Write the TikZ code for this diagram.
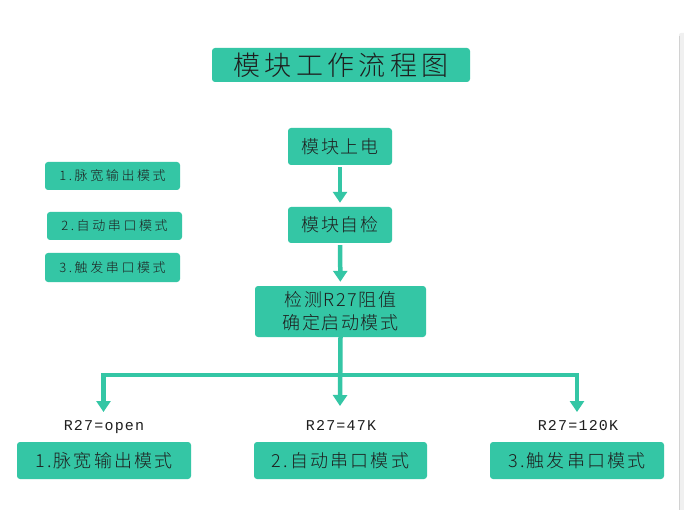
\documentclass[tikz,border=0pt]{standalone}
\usepackage{fontspec}
\setmainfont{Noto Sans CJK SC Light}
\newfontfamily\titlef[LetterSpace=16]{Noto Sans CJK SC Light}
\newfontfamily\midf[LetterSpace=9]{Noto Sans CJK SC Light}
\newfontfamily\smallf[LetterSpace=20]{Noto Sans CJK SC Light}
\newfontfamily\bigf[LetterSpace=12]{Noto Sans CJK SC Light}
\newfontfamily\monof[LetterSpace=8]{Liberation Mono}
\usetikzlibrary{arrows.meta}
\definecolor{teal1}{RGB}{52,198,165}
\definecolor{ink}{RGB}{30,30,30}
\begin{document}
\begin{tikzpicture}[x=1pt,y=-1pt,
  box/.style={fill=teal1, rounded corners=3pt, inner sep=0pt, text=ink, align=center},
  flow/.style={draw=teal1, line width=4.5pt, line join=miter},
  tip/.style={-{Triangle[width=14pt,length=11pt]}},
  lbl/.style={text=ink, inner sep=0pt, text height=10pt, text depth=3pt, font=\monof\fontsize{15}{18}\selectfont}
]
\useasboundingbox (0,0) rectangle (684,510);
\fill[white] (0,0) rectangle (684,510);
% right edge shadow
\fill[gray!12, rounded corners=2pt] (679,33) rectangle (686,512);
\draw[gray!35, line width=1pt] (679.5,36) -- (679.5,510);

\node[box, minimum width=258pt, minimum height=34pt, font=\titlef\fontsize{27}{30}\selectfont] (title) at (341,65) {模块工作流程图};

\node[box, minimum width=104pt, minimum height=37pt, font=\midf\fontsize{18}{22}\selectfont] (power) at (340,146.5) {模块上电};
\node[box, minimum width=104pt, minimum height=36pt, font=\midf\fontsize{18}{22}\selectfont] (check) at (340,225) {模块自检};
\node[box, minimum width=171pt, minimum height=51pt, font=\midf\fontsize{18}{23}\selectfont] (detect) at (340.5,311.5) {检测R27阻值\\确定启动模式};

\node[box, minimum width=135pt, minimum height=28pt, font=\smallf\fontsize{13}{16}\selectfont] (l1) at (112.5,176) {1.脉宽输出模式};
\node[box, minimum width=135pt, minimum height=28pt, font=\smallf\fontsize{13}{16}\selectfont] (l2) at (114.5,226) {2.自动串口模式};
\node[box, minimum width=135pt, minimum height=29pt, font=\smallf\fontsize{13}{16}\selectfont] (l3) at (112.5,267.5) {3.触发串口模式};

\node[box, minimum width=174pt, minimum height=37pt, font=\bigf\fontsize{18}{22}\selectfont] (b1) at (104,460.5) {1.脉宽输出模式};
\node[box, minimum width=173pt, minimum height=37pt, font=\bigf\fontsize{18}{22}\selectfont] (b2) at (340.5,460.5) {2.自动串口模式};
\node[box, minimum width=174pt, minimum height=37pt, font=\bigf\fontsize{18}{22}\selectfont] (b3) at (577,460.5) {3.触发串口模式};

\node[lbl] (r1) at (104,427) {R27=open};
\node[lbl] (r2) at (341,427) {R27=47K};
\node[lbl] (r3) at (578,427) {R27=120K};

\coordinate (jl) at (103.5,375);
\coordinate (jr) at (577,375);
\coordinate (tl) at (103.5,412);
\coordinate (tm) at (340,406);
\coordinate (tr) at (577,412);

\draw[flow, tip, shorten <=2pt, shorten >=4pt] (power) -- (check);
\draw[flow, tip, shorten <=2pt, shorten >=4pt] (check) -- (detect);
\draw[flow, tip] (detect.south) -- (tm);
\draw[flow, {Triangle[width=14pt,length=11pt]}-{Triangle[width=14pt,length=11pt]}] (tl) -- (jl) -- (jr) -- (tr);
\end{tikzpicture}
\end{document}
